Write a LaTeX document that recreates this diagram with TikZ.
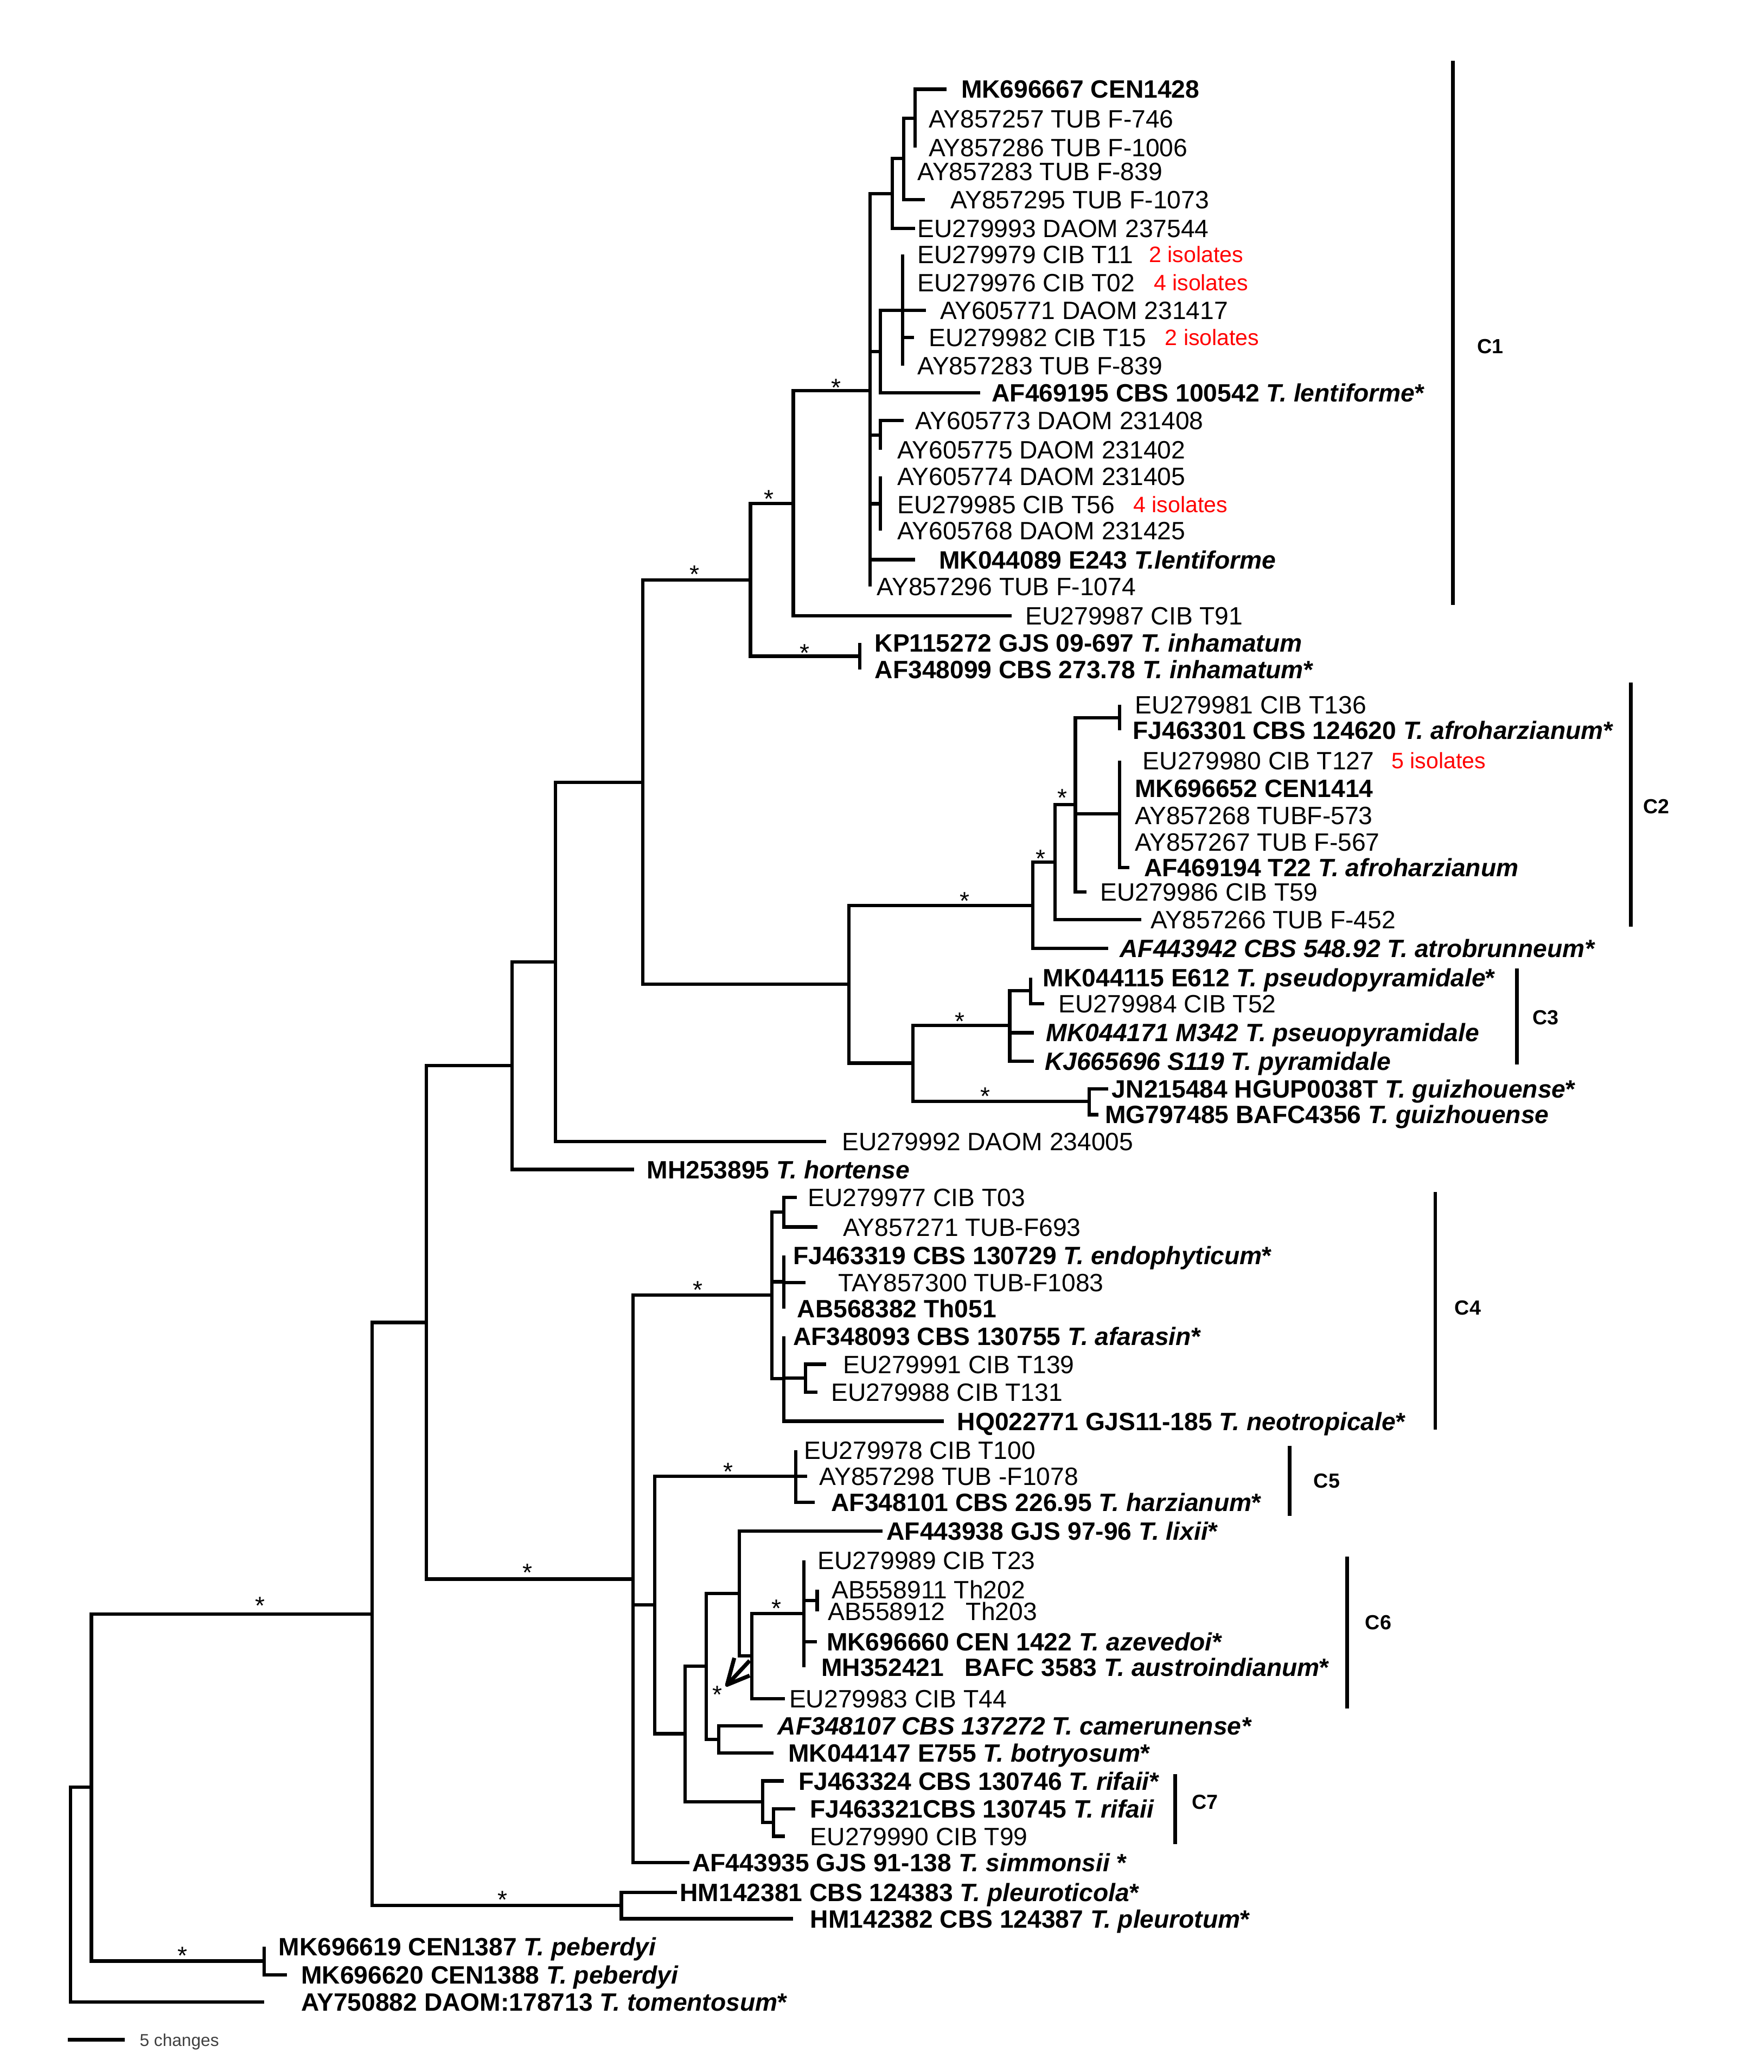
\documentclass[tikz,border=0pt]{standalone}
\usepackage{fontspec}
\setmainfont{Liberation Sans}
\newcommand{\mynode}[4]{\coordinate (#1) at (#3,#4); \draw[br] (#2) |- (#1);}
\newcommand{\mytip}[6]{\coordinate (#1) at (#3,#4); \draw[br] (#2) |- (#1); \node[lab] (#1l) at (#5,#4) {#6};}
\newcommand{\myztip}[6]{\coordinate (#1) at (#3,#4); \draw[br] (#2) -- (#1); \node[lab] (#1l) at (#5,#4) {#6};}
\newcommand{\myiso}[4]{\node[iso] (#1) at (#2,#3) {#4};}
\newcommand{\mysup}[3]{\node[bs] (#1) at (#2,#3+11) {*};}
\begin{document}
\begin{tikzpicture}[x=0.02cm,y=-0.02cm,
  br/.style={line width=1.45pt, line join=miter},
  lab/.style={anchor=west, inner sep=0pt, font=\fontsize{10.8}{13}\selectfont, text height=7.73pt, text depth=0pt},
  iso/.style={anchor=west, inner sep=0pt, text=red, font=\fontsize{9.6}{12}\selectfont, text height=6.87pt, text depth=0pt},
  bs/.style={anchor=base, inner sep=0pt, font=\fontsize{10.8}{13}\selectfont},
  clab/.style={anchor=west, inner sep=0pt, font=\bfseries\fontsize{8.8}{11}\selectfont, text height=6.3pt, text depth=0pt},
  brk/.style={line width=1.6pt}]
\useasboundingbox (0,0) rectangle (1335,1568);

% ---- root and deep nodes
\coordinate (root) at (53.4,1434);
\mynode{nAF}{root}{69.2}{1352.5}
\mytip{tTom}{root}{200}{1515}{227.6}{\textbf{AY750882 DAOM:178713 \textit{T. tomentosum}*}}
\mynode{nAA}{nAF}{281.6}{1221.4}
\mynode{nAG}{nAF}{200}{1484}
\myztip{tPebA}{nAG}{200}{1473}{210.6}{\textbf{MK696619 CEN1387 \textit{T. peberdyi}}}
\mytip{tPebB}{nAG}{217}{1494.5}{227.6}{\textbf{MK696620 CEN1388 \textit{T. peberdyi}}}
\mynode{nY}{nAA}{322.6}{1000.8}
\mynode{nAE}{nAA}{470.3}{1442}
\mytip{tHMa}{nAE}{512.4}{1432}{514.3}{\textbf{HM142381 CBS 124383 \textit{T. pleuroticola}*}}
\mytip{tHMb}{nAE}{600.4}{1452}{613}{\textbf{HM142382 CBS 124387 \textit{T. pleurotum}*}}
\mynode{nX}{nY}{387.6}{806.5}
\mynode{nZ}{nY}{479}{1195}
\mynode{nW}{nX}{420.5}{728}
\mytip{tHort}{nX}{479.8}{885}{489.3}{\textbf{MH253895 \textit{T. hortense}}}
\mynode{nV}{nW}{486.6}{591.9}
\mytip{tEUnn}{nW}{625.5}{864}{637}{EU279992 DAOM 234005}
\mynode{nF}{nV}{568}{439}
\mynode{nQ}{nV}{642.5}{744.8}

% ---- C1 and inhamatum
\mynode{nE}{nF}{600.5}{381}
\mynode{nG}{nF}{650.6}{496.6}
\myztip{tKP}{nG}{650.6}{486.4}{661.8}{\textbf{KP115272 GJS 09-697 \textit{T. inhamatum}}}
\myztip{tAFnn}{nG}{650.6}{506.8}{661.8}{\textbf{AF348099 CBS 273.78 \textit{T. inhamatum}*}}
\mynode{nD}{nE}{658.4}{295.5}
\mytip{tEUsv}{nE}{765.7}{466}{775.9}{EU279987 CIB T91}
\mynode{nC}{nD}{675.5}{146.5}
\mynode{nI}{nD}{666.3}{266.2}
\mynode{nJ}{nD}{666.3}{329.2}
\mynode{nK}{nD}{666.3}{381.2}
\mytip{tMKle}{nD}{692.5}{423.5}{710.5}{\textbf{MK044089 E243 \textit{T.lentiforme}}}
\myztip{tAYnf}{nD}{658.4}{444}{663.5}{AY857296 TUB F-1074}
\mynode{nB}{nC}{684}{120}
\mytip{tEUnt}{nC}{692.5}{173}{694.2}{EU279993 DAOM 237544}
\mynode{nA}{nB}{692.5}{89.5}
\myztip{tAYea}{nB}{684}{129.6}{694.2}{AY857283 TUB F-839}
\mytip{tAYnfv}{nB}{700}{151}{719}{AY857295 TUB F-1073}
\mytip{tMKsv}{nA}{716.3}{67.5}{727.2}{\textbf{MK696667 CEN1428}}
\myztip{tAYfs}{nA}{692.5}{90}{702.7}{AY857257 TUB F-746}
\myztip{tAYes}{nA}{692.5}{111.5}{702.7}{AY857286 TUB F-1006}
\mynode{nH}{nI}{683.3}{234.7}
\mytip{tAFle}{nI}{742}{297.3}{750.4}{\textbf{AF469195 CBS 100542 \textit{T. lentiforme}*}}
\myztip{tEUsn}{nH}{683.3}{192.6}{694.2}{EU279979 CIB T11}
\myztip{tEUss}{nH}{683.3}{213.9}{694.2}{EU279976 CIB T02}
\mytip{tAYso}{nH}{701}{234.7}{711.2}{AY605771 DAOM 231417}
\mytip{tEUet}{nH}{692}{255.5}{702.7}{EU279982 CIB T15}
\myztip{tAYeb}{nH}{683.3}{276.8}{694.2}{AY857283 TUB F-839}
\myiso{iA}{869.5}{192.6}{2 isolates}
\myiso{iB}{873}{213.9}{4 isolates}
\myiso{iC}{881.5}{255.5}{2 isolates}
\myiso{iD}{857.6}{381.8}{4 isolates}
\mytip{tAYst}{nJ}{684}{318.2}{692.5}{AY605773 DAOM 231408}
\myztip{tAYsf}{nJ}{666.3}{340.2}{678.9}{AY605775 DAOM 231402}
\myztip{tAYsq}{nK}{666.3}{360.6}{678.9}{AY605774 DAOM 231405}
\myztip{tEUef}{nK}{666.3}{381.8}{678.9}{EU279985 CIB T56}
\myztip{tAYse}{nK}{666.3}{401.5}{678.9}{AY605768 DAOM 231425}

% ---- C2
\mynode{nP}{nQ}{781.6}{685.1}
\mynode{nR}{nQ}{690.9}{804.5}
\mynode{nO}{nP}{798.5}{652.5}
\mytip{tAFat}{nP}{838.8}{717.7}{847.3}{\textbf{\textit{AF443942 CBS 548.92 T. atrobrunneum*}}}
\mynode{nN}{nO}{814}{609}
\mytip{tAYss}{nO}{863.7}{696}{870.7}{AY857266 TUB F-452}
\mynode{nL}{nN}{847.3}{543.1}
\mynode{nM}{nN}{847.3}{616}
\mytip{tEUes}{nN}{822.4}{675}{832.4}{EU279986 CIB T59}
\myztip{tEUeo}{nL}{847.3}{533.5}{858.7}{EU279981 CIB T136}
\myztip{tFJzo}{nL}{847.3}{552.7}{857.2}{\textbf{FJ463301 CBS 124620 \textit{T. afroharzianum}*}}
\myztip{tEUez}{nM}{847.3}{575.6}{864.7}{EU279980 CIB T127}
\myiso{iE}{1053}{575.6}{5 isolates}
\myztip{tMKft}{nM}{847.3}{596.7}{858.7}{\textbf{MK696652 CEN1414}}
\myztip{tAYsx}{nM}{847.3}{616.9}{858.7}{AY857268 TUBF-573}
\myztip{tAYsy}{nM}{847.3}{637}{858.7}{AY857267 TUB F-567}
\mytip{tAFaf}{nM}{854.7}{656.5}{865.7}{\textbf{AF469194 T22 \textit{T. afroharzianum}}}

% ---- C3 and guizhouense
\mynode{nS}{nR}{764.3}{776}
\mynode{nT}{nR}{824.5}{833.5}
\mynode{nU}{nS}{780}{749.6}
\mytip{tMKps}{nS}{782.6}{781.5}{791.6}{\textbf{\textit{MK044171 M342 T. pseuopyramidale}}}
\mytip{tKJ}{nS}{782.6}{803}{790.5}{\textbf{\textit{KJ665696 S119 T. pyramidale}}}
\myztip{tMKpp}{nU}{780}{739.7}{789.1}{\textbf{MK044115 E612 \textit{T. pseudopyramidale}*}}
\mytip{tEUef2}{nU}{790.5}{759.5}{801}{EU279984 CIB T52}
\mytip{tJN}{nT}{839}{824}{841.3}{\textbf{JN215484 HGUP0038T \textit{T. guizhouense}*}}
\mytip{tMG}{nT}{831.3}{843.5}{836}{\textbf{MG797485 BAFC4356 \textit{T. guizhouense}}}

% ---- C4
\mynode{nAB}{nZ}{584.4}{980}
\mynode{nAD}{nZ}{495.4}{1214.5}
\mytip{tAFsi}{nZ}{521.8}{1409.6}{523.7}{\textbf{AF443935 GJS 91-138 \textit{T. simmonsii} *}}
\mynode{nAQ}{nAB}{593.3}{917.2}
\mynode{nAS}{nAB}{593.3}{970}
\mynode{nAR}{nAB}{593.3}{1043.4}
\mytip{tEUss7}{nAQ}{603}{906}{611.1}{EU279977 CIB T03}
\mytip{tAYso1}{nAQ}{618.6}{928.5}{637.8}{AY857271 TUB-F693}
\myztip{tFJen}{nAS}{593.3}{949.9}{600}{\textbf{FJ463319 CBS 130729 \textit{T. endophyticum}*}}
\mytip{tTAY}{nAS}{609.7}{970.5}{634.2}{TAY857300 TUB-F1083}
\myztip{tABth}{nAS}{593.3}{990.2}{603.1}{\textbf{AB568382 Th051}}
\myztip{tAFaa}{nAR}{593.3}{1011.3}{600}{\textbf{AF348093 CBS 130755 \textit{T. afarasin}*}}
\mynode{nAT}{nAR}{609.7}{1043}
\mytip{tHQ}{nAR}{714.4}{1075.5}{724.2}{\textbf{HQ022771 GJS11-185 \textit{T. neotropicale}*}}
\mytip{tEUno}{nAT}{625.3}{1032.4}{637.8}{EU279991 CIB T139}
\mytip{tEUee}{nAT}{618.6}{1053.5}{628.9}{EU279988 CIB T131}

% ---- C5, C6, C7
\mynode{nAC}{nAD}{602.2}{1117.2}
\mynode{nAH}{nAD}{518.5}{1312}
\myztip{tEUoh}{nAC}{602.2}{1097.5}{608.4}{EU279978 CIB T100}
\mytip{tAYne}{nAC}{610.8}{1117.2}{620}{AY857298 TUB -F1078}
\mytip{tAFha}{nAC}{616.7}{1137}{628.9}{\textbf{AF348101 CBS 226.95 \textit{T. harzianum}*}}
\mynode{nAI}{nAH}{534.5}{1261}
\mynode{nAJ}{nAH}{577.4}{1363.4}
\mynode{nAL}{nAI}{559.6}{1205.7}
\mynode{nAM}{nAI}{544}{1316.3}
\mytip{tLix}{nAL}{667.8}{1158.5}{670.7}{\textbf{AF443938 GJS 97-96 \textit{T. lixii}*}}
\mynode{nAO}{nAL}{569}{1253}
\mynode{nAN}{nAO}{608.6}{1221.2}
\mytip{tEUft}{nAO}{594}{1285.5}{597.1}{EU279983 CIB T44}
\myztip{tEUte}{nAN}{608.6}{1180.9}{618.7}{EU279989 CIB T23}
\mynode{nAP}{nAN}{618.5}{1211.2}
\mytip{tMKaz}{nAN}{618.5}{1242.3}{625.4}{\textbf{MK696660 CEN 1422 \textit{T. azevedoi}*}}
\myztip{tMHau}{nAN}{608.6}{1261.5}{621.4}{\textbf{MH352421\hspace{0.55em} BAFC 3583 \textit{T. austroindianum}*}}
\myztip{tABtt}{nAP}{618.5}{1202.9}{629.3}{AB558911 Th202}
\myztip{tABth3}{nAP}{618.5}{1219.4}{626.5}{AB558912\hspace{0.55em} Th203}
\mytip{tAFca}{nAM}{577.4}{1306}{588.4}{\textbf{\textit{AF348107 CBS 137272 T. camerunense*}}}
\mytip{tMKbo}{nAM}{585.3}{1326.6}{596.3}{\textbf{MK044147 E755 \textit{T. botryosum}*}}
\mytip{tFJri}{nAJ}{593.1}{1347.7}{604.1}{\textbf{FJ463324 CBS 130746 \textit{T. rifaii}*}}
\mynode{nAK}{nAJ}{585.5}{1379.2}
\mytip{tFJrb}{nAK}{602}{1368.7}{612.8}{\textbf{FJ463321CBS 130745 \textit{T. rifaii}}}
\mytip{tEUnine}{nAK}{594}{1389.6}{613}{EU279990 CIB T99}

% ---- support stars
\mysup{sD}{632.9}{288.8}
\mysup{sE}{581.8}{373.2}
\mysup{sG}{609}{489.5}
\mysup{sF}{525.8}{430.1}
\mysup{sN}{804}{599.5}
\mysup{sO}{787.6}{645.3}
\mysup{sP}{730.4}{677.4}
\mysup{sS}{726.6}{768.5}
\mysup{sT}{746}{825}
\mysup{sAB}{528.3}{971.9}
\mysup{sAC}{551.1}{1109.4}
\mysup{sZ}{399.2}{1185.7}
\mysup{sAN}{587.8}{1212.8}
\mysup{sAA}{196.8}{1210.5}
\mysup{sAE}{380.4}{1433.2}
\mysup{sAG}{138.3}{1475.6}
\mysup{sAI}{542.8}{1278}

% ---- arrow mark
\coordinate (arT) at (550.3,1275);
\coordinate (arS) at (567.4,1256.7);
\coordinate (arA) at (555.8,1254.6);
\coordinate (arB) at (567.4,1268);
\draw[br, line width=1.7pt, line join=round] (arS) -- (arT);
\draw[br, line width=1.7pt, line join=round] (arA) -- (arT) -- (arB);

% ---- clade brackets
\coordinate (ca) at (1099.8,45.8); \coordinate (cb) at (1099.8,457.8);
\draw[brk] (ca) -- (cb); \node[clab] (cC1) at (1117.7,262) {C1};
\coordinate (cc) at (1234.4,516.7); \coordinate (cd) at (1234.4,701.4);
\draw[brk] (cc) -- (cd); \node[clab] (cC2) at (1243.6,610.3) {C2};
\coordinate (ce) at (1148,733); \coordinate (cf) at (1148,805.6);
\draw[brk] (ce) -- (cf); \node[clab] (cC3) at (1159.8,770) {C3};
\coordinate (cg) at (1086.4,902); \coordinate (ch) at (1086.4,1082);
\draw[brk] (cg) -- (ch); \node[clab] (cC4) at (1100.8,989.5) {C4};
\coordinate (ci) at (976.2,1094); \coordinate (cj) at (976.2,1147);
\draw[brk] (ci) -- (cj); \node[clab] (cC5) at (994,1120.4) {C5};
\coordinate (ck) at (1019.5,1178); \coordinate (cl) at (1019.5,1292.7);
\draw[brk] (ck) -- (cl); \node[clab] (cC6) at (1033,1227.6) {C6};
\coordinate (cm) at (889.6,1342.5); \coordinate (cn) at (889.6,1395.5);
\draw[brk] (cm) -- (cn); \node[clab] (cC7) at (902,1363.7) {C7};

% ---- scale bar
\coordinate (sbA) at (51.3,1543.5); \coordinate (sbB) at (94.5,1543.5);
\draw[line width=1.6pt] (sbA) -- (sbB);
\node[anchor=west, inner sep=0pt, text=black!75, font=\fontsize{7.4}{9}\selectfont, text height=5.3pt, text depth=0pt] (sbL) at (105.4,1544) {5 changes};
\end{tikzpicture}
\end{document}
